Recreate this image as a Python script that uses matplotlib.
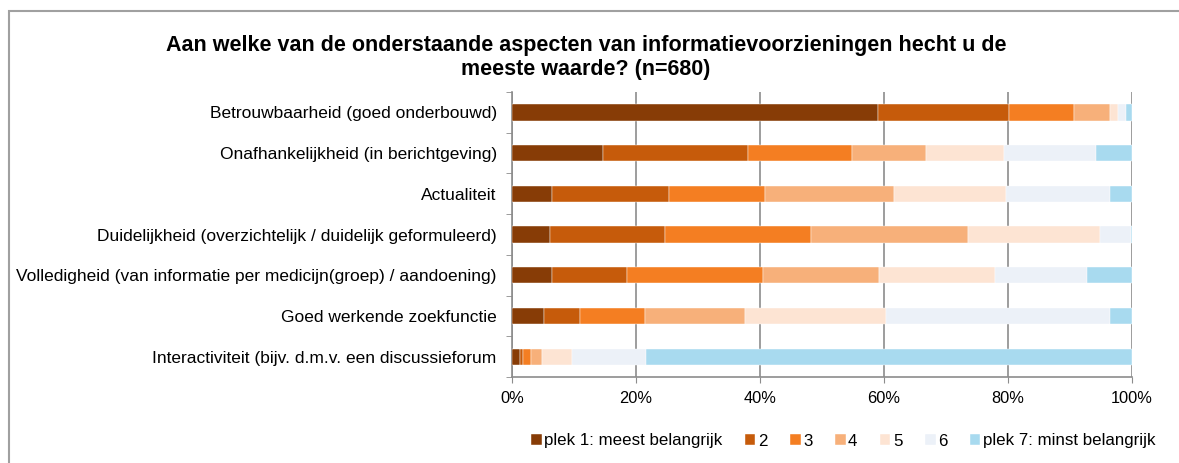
import matplotlib
matplotlib.use("Agg")
import matplotlib.pyplot as plt
from matplotlib.patches import Rectangle
import numpy as np

plt.rcParams['font.family'] = ['Liberation Sans', 'DejaVu Sans']

categories = [
    "Betrouwbaarheid (goed onderbouwd)",
    "Onafhankelijkheid (in berichtgeving)",
    "Actualiteit",
    "Duidelijkheid (overzichtelijk / duidelijk geformuleerd)",
    "Volledigheid (van informatie per medicijn(groep) / aandoening)",
    "Goed werkende zoekfunctie",
    "Interactiviteit (bijv. d.m.v. een discussieforum",
]
series_names = ["plek 1: meest belangrijk", "2", "3", "4", "5", "6", "plek 7: minst belangrijk"]
plek1 = [59.0, 14.7, 6.4, 6.1, 6.5, 5.1, 1.3]
plek2 = [21.1, 23.3, 18.9, 18.5, 12.1, 5.8, 0.4]
plek3 = [10.5, 16.8, 15.5, 23.7, 21.9, 10.5, 1.4]
plek4 = [5.8, 11.9, 20.8, 25.2, 18.7, 16.2, 1.7]
plek5 = [1.4, 12.6, 18.1, 21.4, 18.7, 22.8, 4.9]
plek6 = [1.2, 14.9, 16.8, 4.9, 14.8, 36.1, 11.9]
plek7 = [1.0, 5.8, 3.5, 0.2, 7.3, 3.5, 78.4]
series = [plek1, plek2, plek3, plek4, plek5, plek6, plek7]
colors = ["#873C06", "#C65B0B", "#F47E22", "#F7B07A", "#FDE4D3", "#ECF1F8", "#A8DAEF"]
xticks = [0, 20, 40, 60, 80, 100]
xticklabels = ["0%", "20%", "40%", "60%", "80%", "100%"]

W, H = 1179, 463
fig = plt.figure(figsize=(W / 100, H / 100), dpi=100)
fig.patch.set_facecolor("white")

# outer chart border
fig.add_artist(Rectangle((9 / W, -0.05), 1.2, (H - 11) / H + 0.05, transform=fig.transFigure,
                         fill=False, edgecolor="#A0A0A0", linewidth=1.5))

ax = fig.add_axes([512 / W, 1 - 377 / H, (1132 - 512) / W, (377 - 92) / H])
y = np.arange(len(categories))
left = np.zeros(len(categories))
for name, vals, c in zip(series_names, series, colors):
    v = np.array(vals, dtype=float)
    ax.barh(y, v, left=left, height=0.4, color=c, label=name, zorder=3,
            edgecolor="white", linewidth=0.3)
    left += v

ax.set_xlim(0, 100)
ax.set_ylim(len(categories) - 0.5, -0.5)
ax.set_yticks(y)
ax.set_yticklabels(categories, fontsize=12.5)
ax.set_yticks(np.arange(len(categories) + 1) - 0.5, minor=True)
ax.tick_params(axis="y", which="major", length=0, pad=11)
ax.tick_params(axis="y", which="minor", length=4, color="#8C8C8C")
ax.set_xticks(xticks)
ax.set_xticklabels(xticklabels, fontsize=11.8)
ax.tick_params(axis="x", length=4, color="#8C8C8C", pad=6)
ax.xaxis.grid(True, color="#8C8C8C", linewidth=1.2, zorder=0)
ax.set_axisbelow(True)
for s in ["top", "right"]:
    ax.spines[s].set_visible(False)
for s in ["left", "bottom"]:
    ax.spines[s].set_color("#8C8C8C")
    ax.spines[s].set_linewidth(1.2)

fig.text(586 / W, 1 - 45 / H, "Aan welke van de onderstaande aspecten van informatievoorzieningen hecht u de",
         ha="center", va="center", fontsize=15.5, fontweight="bold")
fig.text(586 / W, 1 - 70 / H, "meeste waarde? (n=680)",
         ha="center", va="center", fontsize=15.5, fontweight="bold")

leg = fig.legend(loc="center", bbox_to_anchor=((525 + 1162) / 2 / W, 1 - 441 / H), ncol=7,
                 frameon=False, fontsize=12.2, handlelength=0.6, handleheight=0.6,
                 handletextpad=0.15, columnspacing=1.35)

fig.savefig("out.png", dpi=100)
